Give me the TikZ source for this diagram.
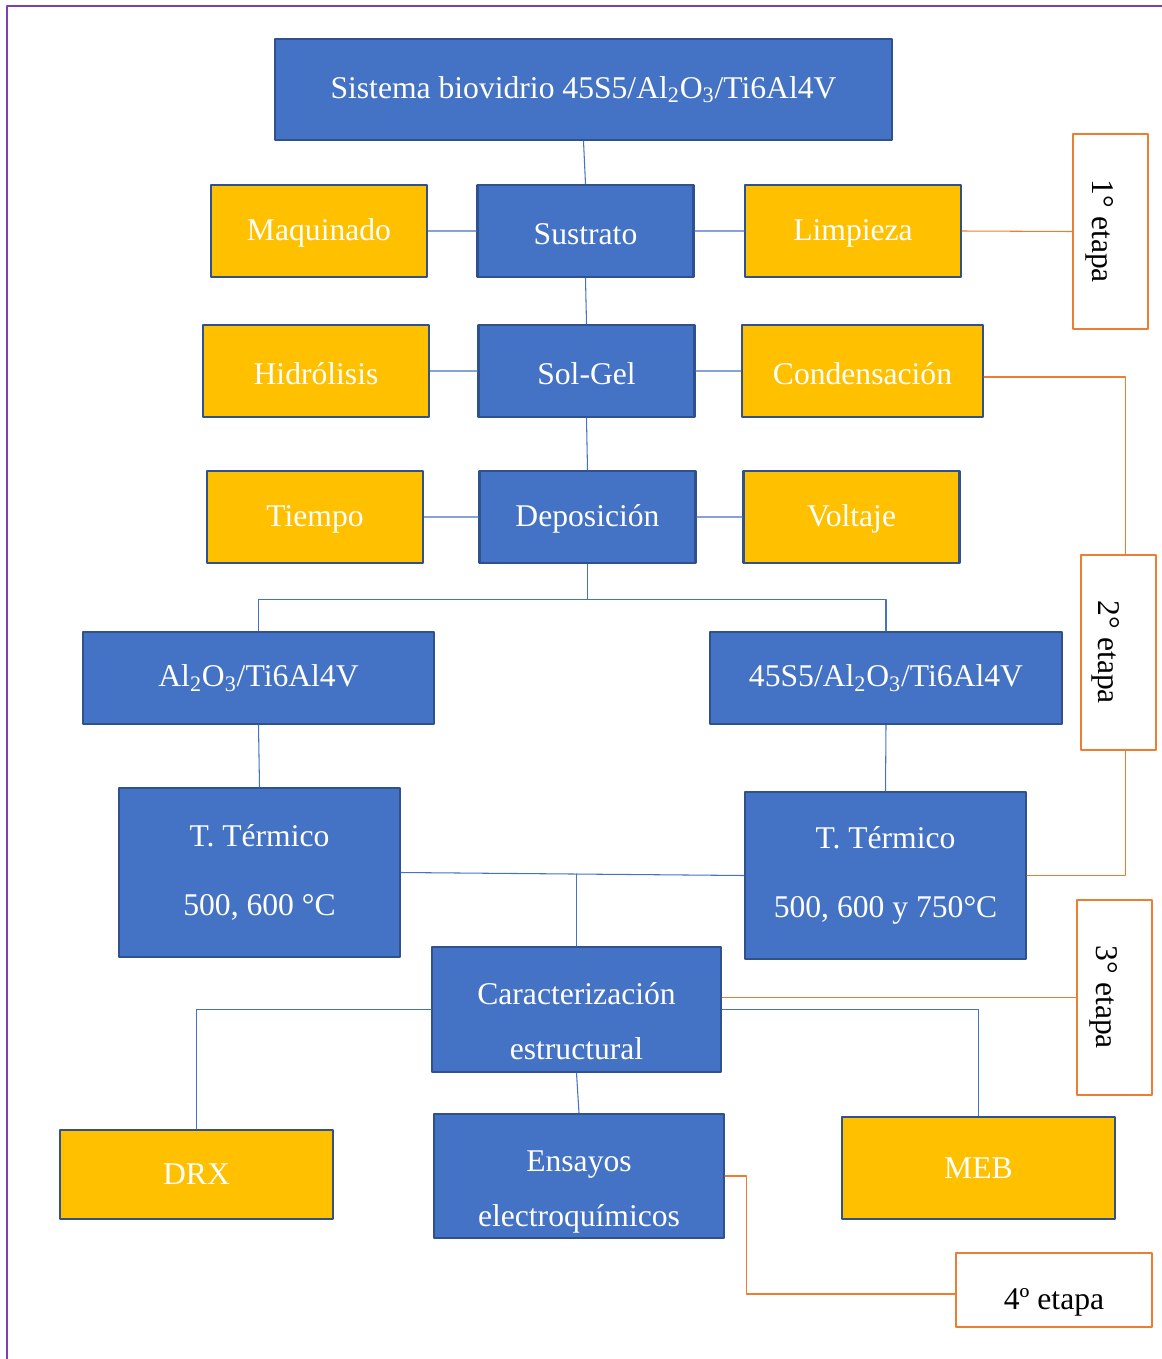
\documentclass[tikz,border=0pt]{standalone}
\usepackage{fontspec}
\setmainfont{Liberation Serif}
\usepackage{graphicx}
\definecolor{colAzul}{HTML}{4472C4}
\definecolor{colBorde}{HTML}{2F528F}
\definecolor{colAmarillo}{HTML}{FFC000}
\definecolor{colNaranja}{HTML}{ED7D31}
\definecolor{colMorado}{HTML}{7E3FB5}
\begin{document}
\begin{tikzpicture}[x=0.02cm,y=-0.02cm,line cap=round,line join=round,font=\fontsize{18}{21.6}\selectfont,
	caja/.style={draw=colBorde,line width=1.2pt,text=white,align=center,inner sep=0pt},
	cajaazul/.style={caja,fill=colAzul},
	cajaamarilla/.style={caja,fill=colAmarillo},
	etapa/.style={draw=colNaranja,line width=1.5pt,fill=white,text=black,inner sep=0pt},
	linea/.style={draw=colAzul,line width=0.6pt},
	lineanar/.style={draw=colNaranja,line width=0.6pt}]
			\useasboundingbox (0,0) rectangle (1162,1359);
			\draw[colMorado,line width=1.2pt] (7,1359) -- (7,6) -- (1162,6);
			% cajas azules
			\node[cajaazul,minimum width=12.34cm,minimum height=2.02cm] (top) at (583.5,89.5) {Sistema biovidrio 45S5/Al\textsubscript{2}O\textsubscript{3}/Ti6Al4V};
			\foreach \n/\x/\y/\t in {sus/585.5/231/Sustrato,sol/586.5/371/Sol-Gel,dep/587.5/517/Deposición}{
				\node[cajaazul,minimum width=4.32cm,minimum height=1.84cm] (\n) at (\x,\y) {\rule{0pt}{15pt}\t};
			}
			% cajas amarillas
			\foreach \n/\x/\y/\w/\t in {maq/319/231/4.32/Maquinado,lim/853/231/4.32/Limpieza,hid/316/371/4.52/Hidrólisis,con/862.5/371/4.82/Condensación,tie/315/517/4.32/Tiempo,vol/851.5/517/4.32/Voltaje}{
				\node[cajaamarilla,minimum width=\w cm,minimum height=1.84cm] (\n) at (\x,\y) {\rule{0pt}{15pt}\t};
			}
			\node[cajaazul,minimum width=7.02cm,minimum height=1.84cm] (alo) at (258.5,678) {Al\textsubscript{2}O\textsubscript{3}/Ti6Al4V};
			\node[cajaazul,minimum width=7.04cm,minimum height=1.84cm] (bio) at (886,678) {45S5/Al\textsubscript{2}O\textsubscript{3}/Ti6Al4V};
			\node[cajaazul,minimum width=5.62cm,minimum height=3.38cm] (ttl) at (259.5,872.5) {T. Térmico\\[18pt]500, 600 °C};
			\node[cajaazul,minimum width=5.62cm,minimum height=3.34cm] (ttr) at (885.5,875.5) {T. Térmico\\[18pt]500, 600 y 750°C};
			\node[cajaazul,minimum width=5.78cm,minimum height=2.5cm] (car) at (576.5,1009.5) {\rule{0pt}{26pt}Caracterización\\[10pt]estructural};
			\node[cajaazul,minimum width=5.8cm,minimum height=2.48cm] (ens) at (579,1176) {\rule{0pt}{30pt}Ensayos\\[10pt]electroquímicos};
			\node[cajaamarilla,minimum width=5.46cm,minimum height=1.78cm] (drx) at (196.5,1174.5) {DRX};
			\node[cajaamarilla,minimum width=5.46cm,minimum height=2.04cm] (meb) at (978.5,1168) {MEB};
			% etapas
			\node[etapa,minimum width=1.5cm,minimum height=3.9cm] (et1) at (1110.5,231.5) {\rotatebox{-90}{\rule{0pt}{24pt}1° etapa}};
			\node[etapa,minimum width=1.5cm,minimum height=3.9cm] (et2) at (1118.5,652.5) {\rotatebox{-90}{\rule{0pt}{27pt}2° etapa}};
			\node[etapa,minimum width=1.5cm,minimum height=3.9cm] (et3) at (1114.5,997.5) {\rotatebox{-90}{\rule{0pt}{24pt}3° etapa}};
			\node[etapa,minimum width=3.92cm,minimum height=1.48cm] (et4) at (1054,1290) {\rule{0pt}{26pt}4º etapa};
			% conectores
			\draw[linea] (top.south) -- (sus.north)
			(sus.south) -- (sol.north)
			(sol.south) -- (dep.north)
			(maq.east) -- (sus.west) (sus.east) -- (lim.west)
			(hid.east) -- (sol.west) (sol.east) -- (con.west)
			(tie.east) -- (dep.west) (dep.east) -- (vol.west);
			\draw[linea] (dep.south) -- ++(0,35) coordinate (rama);
			\draw[linea] (alo.north) |- (rama) -| (bio.north);
			\draw[linea] (alo.south) -- (ttl.north) (bio.south) -- (ttr.north);
			\draw[linea] (ttl.east) -- (ttr.west);
			\draw[linea] (car.north) -- ++(0,-72);
			\draw[linea] (drx.north) |- (car.west) (car.east) -| (meb.north);
			\draw[linea] (car.south) -- (ens.north);
			\draw[lineanar] (lim.east) -- (et1.west);
			\draw[lineanar] ([yshift=-0.12cm]con.east) -| ([xshift=0.14cm]et2.north);
			\draw[lineanar] ([xshift=0.14cm]et2.south) |- (ttr.east);
			\draw[lineanar] (car.east |- et3.west) -- (et3.west);
			\draw[lineanar] (ens.east) -- ++(21,0) |- ([yshift=-0.08cm]et4.west);
		\end{tikzpicture}
\end{document}
